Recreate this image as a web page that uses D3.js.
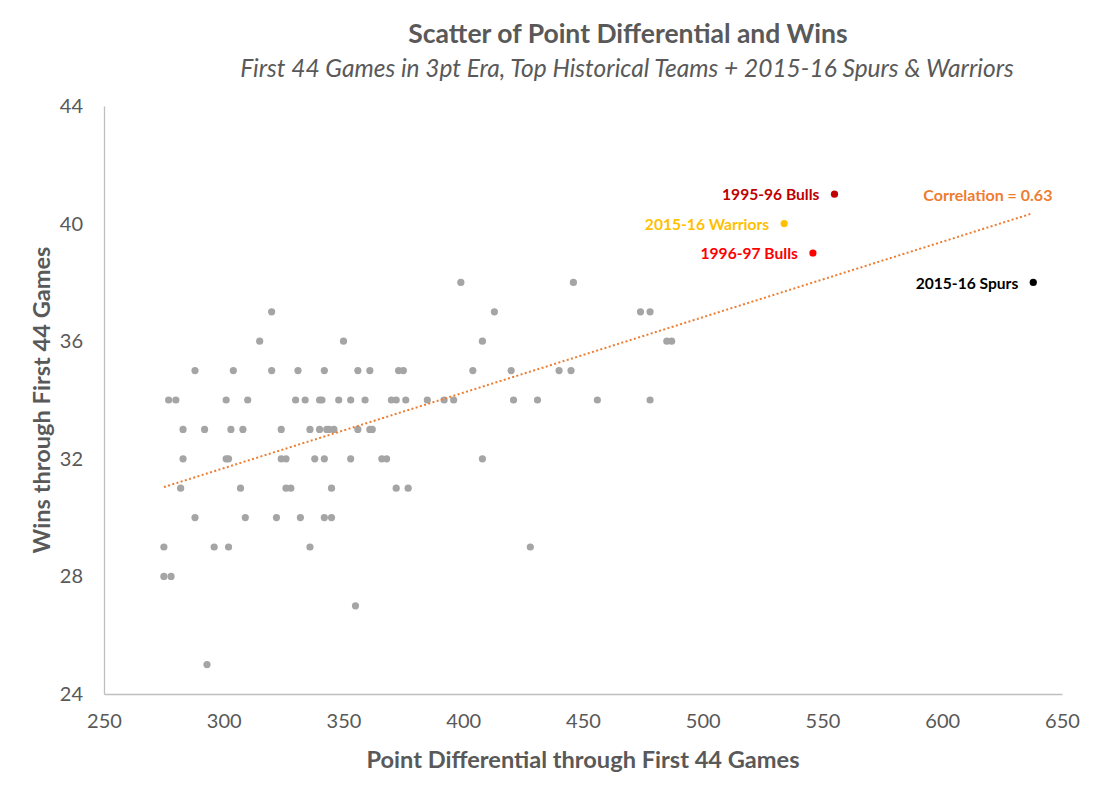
<!DOCTYPE html>
<html>
<head>
<meta charset="utf-8">
<script src="https://cdn.jsdelivr.net/npm/d3@7"></script>
<style>
  body { margin: 0; background: #fff; }
  text { font-family: Lato, 'Open Sans', sans-serif; }
</style>
</head>
<body>
<div class="canvas"></div>
<script>
// Historical teams, point differential and wins through the first 44 games
const historicalDiff = [
  399, 446,
  320, 413, 474, 478,
  315, 350, 408, 485, 487,
  288, 304, 320, 331, 342, 356, 361, 373, 375, 404, 420, 440, 445,
  277, 280, 301, 310, 330, 334, 340, 341, 348, 353, 359, 370, 372, 376, 385, 392, 396, 421, 431, 456, 478,
  283, 292, 303, 308, 324, 336, 340, 343, 344, 346, 356, 361, 362,
  283, 301, 302, 324, 326, 338, 342, 353, 366, 368, 408,
  282, 307, 326, 328, 345, 372, 377,
  288, 309, 322, 332, 342, 345,
  275, 296, 302, 336, 428,
  275, 278,
  355,
  293
]
const historicalWins = [
  38, 38,
  37, 37, 37, 37,
  36, 36, 36, 36, 36,
  35, 35, 35, 35, 35, 35, 35, 35, 35, 35, 35, 35, 35,
  34, 34, 34, 34, 34, 34, 34, 34, 34, 34, 34, 34, 34, 34, 34, 34, 34, 34, 34, 34, 34,
  33, 33, 33, 33, 33, 33, 33, 33, 33, 33, 33, 33, 33,
  32, 32, 32, 32, 32, 32, 32, 32, 32, 32, 32,
  31, 31, 31, 31, 31, 31, 31,
  30, 30, 30, 30, 30, 30,
  29, 29, 29, 29, 29,
  28, 28,
  27,
  25
]

// Highlighted teams
const teamNames = ['1995-96 Bulls', '2015-16 Warriors', '1996-97 Bulls', '2015-16 Spurs']
const teamDiff = [555, 534, 546, 638]
const teamWins = [41, 40, 39, 38]
const teamColors = ['#C00000', '#FFC000', '#FF0000', '#000000']

// Trend line
const trendSlope = 0.02567
const trendIntercept = 23.98
const trendRange = [275, 637]
const correlationLabel = 'Correlation = 0.63'

const xTicks = [250, 300, 350, 400, 450, 500, 550, 600, 650]
const yTicks = [24, 28, 32, 36, 40, 44]

const width = 1100
const height = 797
const margin = {top: 106, right: 38, bottom: 103, left: 104}
const graphWidth = width - margin.left - margin.right
const graphHeight = height - margin.top - margin.bottom

const svg = d3.select('.canvas')
  .append('svg')
    .attr('width', width)
    .attr('height', height)

const graph = svg.append('g')
  .attr('transform', `translate(${margin.left},${margin.top})`)

// Scales
const x = d3.scaleLinear().domain([250, 650]).range([0, graphWidth])
const y = d3.scaleLinear().domain([24, 44]).range([graphHeight, 0])

// Axes
const xAxisGroup = graph.append('g')
  .attr('transform', `translate(0, ${graphHeight})`)
  .call(d3.axisBottom(x).tickValues(xTicks).tickSize(0).tickPadding(20))
const yAxisGroup = graph.append('g')
  .call(d3.axisLeft(y).tickValues(yTicks).tickSize(0).tickPadding(21))

;[xAxisGroup, yAxisGroup].forEach(g => {
  g.select('.domain').attr('stroke', '#bfbfbf').attr('stroke-width', 1.3)
  g.selectAll('text')
    .attr('fill', '#595959')
    .style('font-size', '20px')
    .style('font-family', 'Lato, sans-serif')
})

// Historical points
const points = historicalDiff.map((d, i) => ({diff: d, wins: historicalWins[i]}))
graph.selectAll('circle.hist')
  .data(points)
  .enter()
  .append('circle')
    .attr('class', 'hist')
    .attr('cx', d => x(d.diff))
    .attr('cy', d => y(d.wins))
    .attr('r', 3.6)
    .attr('fill', '#a5a5a5')

// Trend line
graph.append('line')
  .attr('x1', x(trendRange[0]))
  .attr('y1', y(trendIntercept + trendSlope * trendRange[0]))
  .attr('x2', x(trendRange[1]))
  .attr('y2', y(trendIntercept + trendSlope * trendRange[1]))
  .attr('stroke', '#ED7D31')
  .attr('stroke-width', 2)
  .attr('stroke-dasharray', '2 2.4')

graph.append('text')
  .attr('x', x(646))
  .attr('y', y(40.95))
  .attr('dy', '0.35em')
  .attr('text-anchor', 'end')
  .attr('fill', '#ED7D31')
  .style('font-size', '16px')
  .style('font-weight', 'bold')
  .text(correlationLabel)

// Highlighted teams
const teams = teamNames.map((name, i) => ({name, diff: teamDiff[i], wins: teamWins[i], color: teamColors[i]}))
graph.selectAll('circle.team')
  .data(teams)
  .enter()
  .append('circle')
    .attr('class', 'team')
    .attr('cx', d => x(d.diff))
    .attr('cy', d => y(d.wins))
    .attr('r', 3.6)
    .attr('fill', d => d.color)

graph.selectAll('text.team')
  .data(teams)
  .enter()
  .append('text')
    .attr('class', 'team')
    .attr('x', d => x(d.diff) - 15)
    .attr('y', d => y(d.wins))
    .attr('dy', '0.4em')
    .attr('text-anchor', 'end')
    .attr('fill', d => d.color)
    .style('font-size', '15.6px')
    .style('font-weight', 'bold')
    .text(d => d.name)

// Titles
svg.append('text')
  .attr('x', 628)
  .attr('y', 43)
  .attr('text-anchor', 'middle')
  .attr('fill', '#595959')
  .style('font-size', '26.5px')
  .style('font-weight', 'bold')
  .text('Scatter of Point Differential and Wins')

svg.append('text')
  .attr('x', 627)
  .attr('y', 77)
  .attr('text-anchor', 'middle')
  .attr('fill', '#595959')
  .style('font-size', '24.5px')
  .style('font-style', 'italic')
  .text('First 44 Games in 3pt Era, Top Historical Teams + 2015-16 Spurs & Warriors')

svg.append('text')
  .attr('x', margin.left + graphWidth / 2)
  .attr('y', 768)
  .attr('text-anchor', 'middle')
  .attr('fill', '#595959')
  .style('font-size', '23.6px')
  .style('font-weight', 'bold')
  .text('Point Differential through First 44 Games')

svg.append('text')
  .attr('transform', `translate(50, ${margin.top + graphHeight / 2}) rotate(-90)`)
  .attr('text-anchor', 'middle')
  .attr('fill', '#595959')
  .style('font-size', '23.6px')
  .style('font-weight', 'bold')
  .text('Wins through First 44 Games')
</script>
</body>
</html>
